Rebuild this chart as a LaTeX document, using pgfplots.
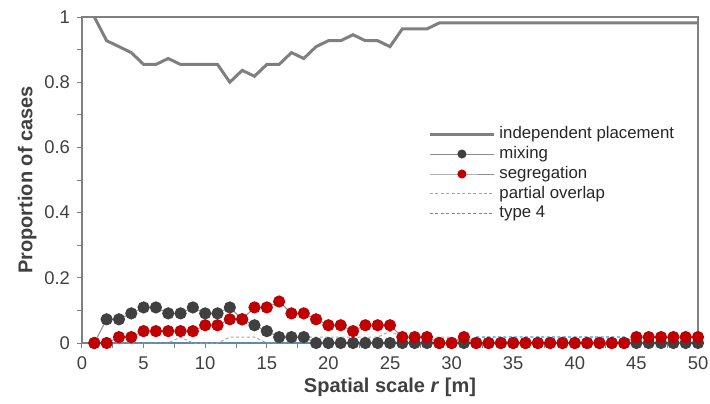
\documentclass[border=0pt]{standalone}
\usepackage{pgfplots}
\pgfplotsset{compat=1.18}
\usepackage{fontspec}
\setmainfont{Liberation Sans}
\definecolor{indc}{HTML}{7F7F7F}
\definecolor{mixc}{HTML}{404040}
\definecolor{segc}{HTML}{C00000}
\definecolor{linc}{HTML}{8C8C8C}
\definecolor{parc}{HTML}{A6A6A6}
\definecolor{typefourc}{HTML}{2E9BEA}
\definecolor{axc}{HTML}{808080}
\definecolor{txc}{HTML}{404040}
\definecolor{legc}{HTML}{262626}
\begin{document}
\begin{tikzpicture}
\useasboundingbox (-41pt,-30pt) rectangle (314pt,171.5pt);
\begin{axis}[
  scale only axis, width=308pt, height=163pt,
  xmin=0, xmax=50, ymin=0, ymax=1,
  xtick={0,5,...,50}, ytick={0,0.2,...,1},
  yticklabels={0,0.2,0.4,0.6,0.8,1},
  minor x tick num=1, minor y tick num=1,
  tick align=outside, major tick length=2.5pt, minor tick length=2.5pt,
  xtick pos=bottom, ytick pos=left,
  axis line style={axc, line width=0.6pt},
  every tick/.style={axc, line width=0.5pt},
  tick label style={font=\fontsize{9.2}{10}\selectfont, text=txc},
  xticklabel style={yshift=-1pt},
  /pgf/number format/assume math mode=true,
  xlabel={\textbf{Spatial scale \textit{r} [m]}},
  ylabel={\textbf{Proportion of cases}},
  label style={font=\fontsize{10}{12}\selectfont, text=txc},
  xlabel style={at={(axis description cs:0.5,-0.135)}, anchor=center},
  ylabel style={at={(axis description cs:-0.089,0.5)}, anchor=center},
  legend style={draw=none, fill=none, at={(axis cs:27.6,0.69)}, anchor=north west,
    font=\fontsize{8.4}{10}\selectfont, row sep=-1.6pt,
    /tikz/every even column/.append style={column sep=2pt}},
  legend cell align=left,
  legend image code/.code={\draw[mark repeat=2,mark phase=2] plot coordinates {(0pt,0pt) (16pt,0pt) (32pt,0pt)};},
  every legend image post/.style={mark size=2pt},
  clip=false,
]
\addplot[color=indc, line width=1.5pt, mark=none] coordinates {
(1,1) (2,0.9273) (3,0.9091) (4,0.8909) (5,0.8545) (6,0.8545) (7,0.8727) (8,0.8545) (9,0.8545) (10,0.8545)
(11,0.8545) (12,0.8) (13,0.8364) (14,0.8182) (15,0.8545) (16,0.8545) (17,0.8909) (18,0.8727) (19,0.9091) (20,0.9273)
(21,0.9273) (22,0.9455) (23,0.9273) (24,0.9273) (25,0.9091) (26,0.9636) (27,0.9636) (28,0.9636) (29,0.9818) (30,0.9818)
(31,0.9818) (32,0.9818) (33,0.9818) (34,0.9818) (35,0.9818) (36,0.9818) (37,0.9818) (38,0.9818) (39,0.9818) (40,0.9818)
(41,0.9818) (42,0.9818) (43,0.9818) (44,0.9818) (45,0.9818) (46,0.9818) (47,0.9818) (48,0.9818) (49,0.9818) (50,0.9818)};
\addlegendentry{\textcolor{legc}{independent placement}}
\addplot[color=linc, line width=0.5pt, mark=*, mark size=2.8pt, mark options={draw=mixc, fill=mixc}] coordinates {
(1,0) (2,0.0727) (3,0.0727) (4,0.0909) (5,0.1091) (6,0.1091) (7,0.0909) (8,0.0909) (9,0.1091) (10,0.0909)
(11,0.0909) (12,0.1091) (13,0.0727) (14,0.0545) (15,0.0364) (16,0.0182) (17,0.0182) (18,0.0182) (19,0) (20,0)
(21,0) (22,0) (23,0) (24,0) (25,0) (26,0) (27,0) (28,0) (29,0) (30,0)
(31,0) (32,0) (33,0) (34,0) (35,0) (36,0) (37,0) (38,0) (39,0) (40,0)
(41,0) (42,0) (43,0) (44,0) (45,0) (46,0) (47,0) (48,0) (49,0) (50,0)};
\addlegendentry{\textcolor{legc}{mixing}}
\addplot[color=linc, line width=0.5pt, mark=*, mark size=2.8pt, mark options={draw=segc, fill=segc}] coordinates {
(1,0) (2,0) (3,0.0182) (4,0.0182) (5,0.0364) (6,0.0364) (7,0.0364) (8,0.0364) (9,0.0364) (10,0.0545)
(11,0.0545) (12,0.0727) (13,0.0727) (14,0.1091) (15,0.1091) (16,0.1273) (17,0.0909) (18,0.0909) (19,0.0727) (20,0.0545)
(21,0.0545) (22,0.0364) (23,0.0545) (24,0.0545) (25,0.0545) (26,0.0182) (27,0.0182) (28,0.0182) (29,0) (30,0)
(31,0.0182) (32,0) (33,0) (34,0) (35,0) (36,0) (37,0) (38,0) (39,0) (40,0)
(41,0) (42,0) (43,0) (44,0) (45,0.0182) (46,0.0182) (47,0.0182) (48,0.0182) (49,0.0182) (50,0.0182)};
\addlegendentry{\textcolor{legc}{segregation}}
\addplot[color=parc, line width=0.5pt, dash pattern=on 1.5pt off 1.2pt, mark=none] coordinates {
(1,0) (2,0) (3,0) (4,0) (5,0) (6,0) (7,0) (8,0.0182) (9,0) (10,0)
(11,0) (12,0.0182) (13,0.0182) (14,0.0182) (15,0) (16,0) (17,0) (18,0.0182) (19,0.0182) (20,0.0182)
(21,0.0182) (22,0.0182) (23,0.0182) (24,0.0182) (25,0.0364) (26,0.0182) (27,0.0182) (28,0.0182) (29,0.0182) (30,0.0182)
(31,0) (32,0) (33,0) (34,0) (35,0) (36,0) (37,0) (38,0) (39,0) (40,0)
(41,0) (42,0) (43,0) (44,0) (45,0) (46,0) (47,0) (48,0) (49,0) (50,0)};
\addlegendentry{\textcolor{legc}{partial overlap}}
\addplot[color=typefourc, line width=0.6pt, dash pattern=on 1.5pt off 1.2pt, mark=none,
  legend image code/.code={\draw[draw=typefourc, line width=0.7pt, dash pattern=on 1.5pt off 1.2pt] (0pt,0pt) -- (32pt,0pt);}] coordinates {
(1,0) (2,0) (3,0) (4,0) (5,0) (6,0) (7,0) (8,0) (9,0) (10,0)
(11,0) (12,0) (13,0) (14,0) (15,0) (16,0) (17,0) (18,0) (19,0) (20,0)
(21,0) (22,0) (23,0) (24,0) (25,0) (26,0) (27,0) (28,0) (29,0) (30,0)
(31,0) (32,0.0182) (33,0.0182) (34,0.0182) (35,0.0182) (36,0.0182) (37,0.0182) (38,0.0182) (39,0.0182) (40,0.0182)
(41,0.0182) (42,0.0182) (43,0.0182) (44,0.0182) (45,0) (46,0) (47,0) (48,0) (49,0) (50,0)};
\addlegendentry{\textcolor{legc}{type 4}}
\end{axis}
\end{tikzpicture}
\end{document}
